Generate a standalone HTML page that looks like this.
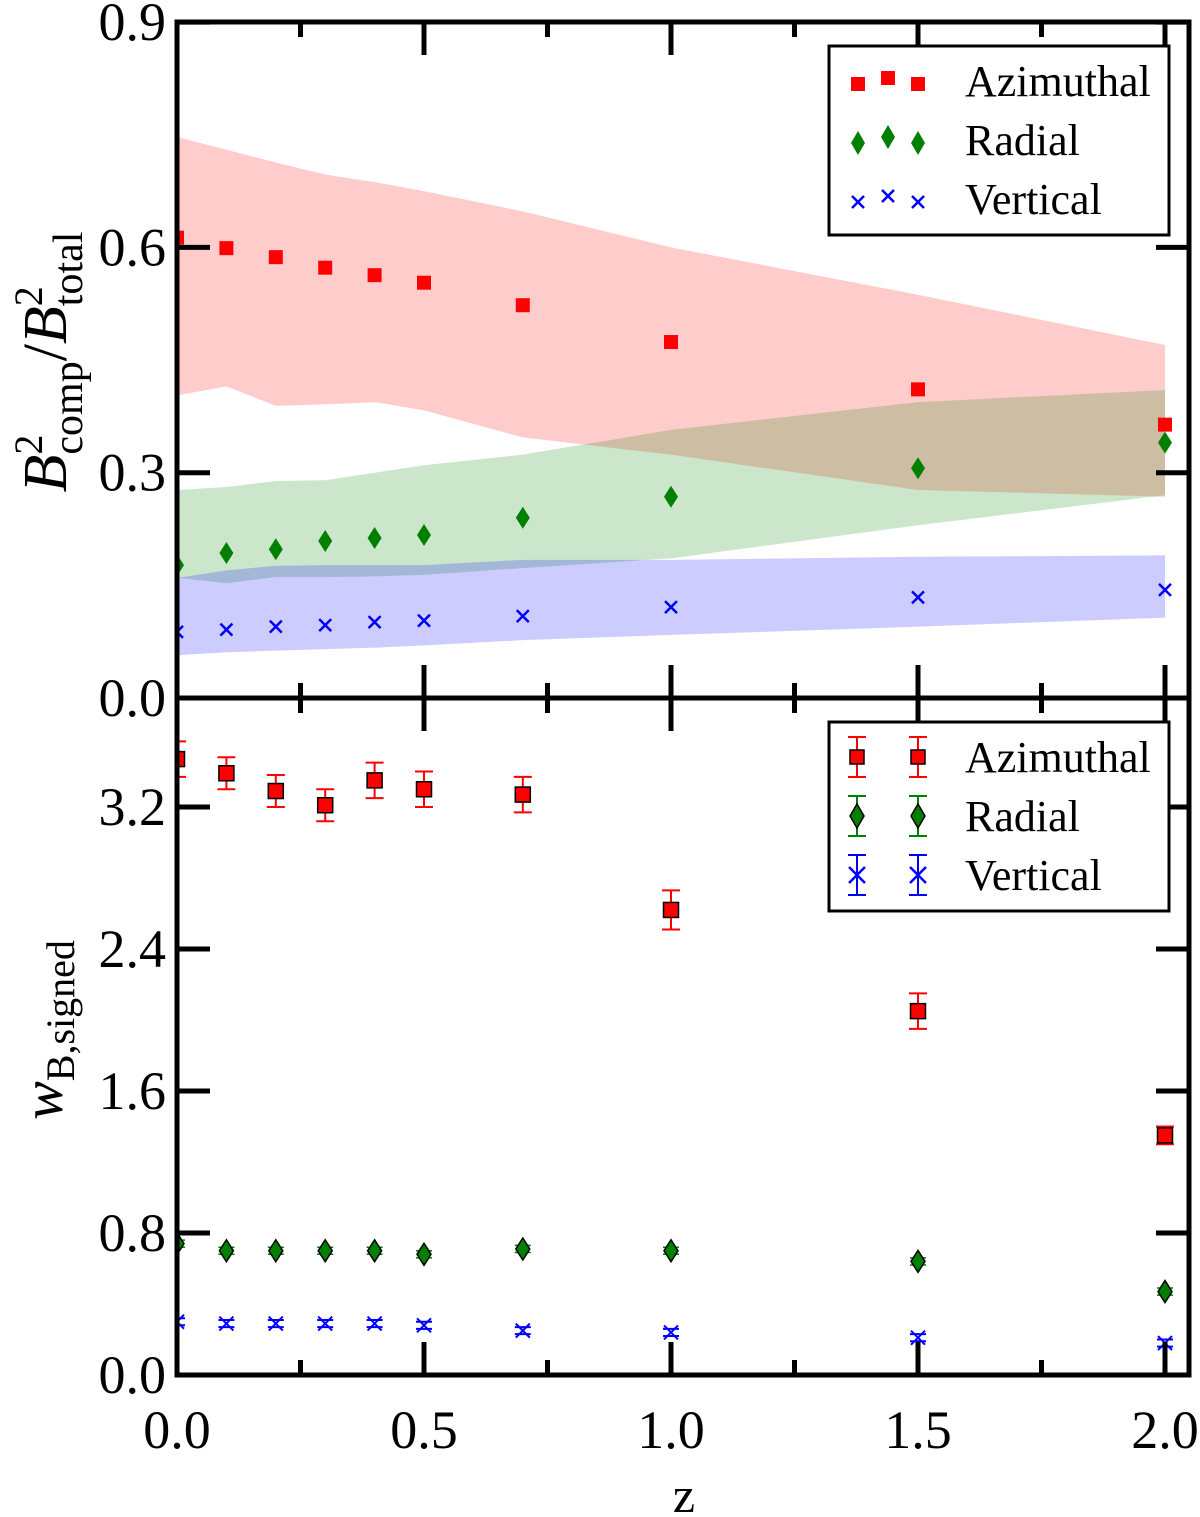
<!DOCTYPE html>
<html><head><meta charset="utf-8"><style>
html,body{margin:0;padding:0;background:#fff;}
svg{display:block;font-family:"Liberation Serif",serif;}
</style></head><body>
<svg id="chart" width="1200" height="1517" viewBox="0 0 1200 1517"></svg>
<script>
const zVals = [0,0.1,0.2,0.3,0.4,0.5,0.7,1.0,1.5,2.0];
const fracAz = [0.613,0.599,0.587,0.573,0.563,0.553,0.523,0.474,0.411,0.364];
const fracRad = [0.177,0.193,0.198,0.209,0.213,0.217,0.240,0.268,0.306,0.340];
const fracVer = [0.088,0.091,0.095,0.097,0.101,0.103,0.109,0.121,0.134,0.144];
const bandAzHi = [0.747,0.730,0.713,0.697,0.687,0.675,0.648,0.600,0.537,0.470];
const bandAzLo = [0.403,0.415,0.389,0.391,0.394,0.383,0.347,0.324,0.277,0.268];
const bandRadHi = [0.277,0.281,0.289,0.290,0.300,0.310,0.324,0.357,0.394,0.410];
const bandRadLo = [0.160,0.153,0.161,0.161,0.162,0.164,0.173,0.186,0.230,0.270];
const bandVerHi = [0.160,0.170,0.176,0.177,0.177,0.177,0.184,0.184,0.188,0.190];
const bandVerLo = [0.057,0.061,0.063,0.065,0.067,0.070,0.077,0.084,0.095,0.107];
const wAz = [3.47,3.39,3.29,3.21,3.35,3.30,3.27,2.62,2.05,1.35];
const wAzErr = [0.1,0.09,0.09,0.09,0.1,0.1,0.1,0.11,0.1,0.05];
const wRad = [0.74,0.70,0.70,0.70,0.70,0.68,0.71,0.70,0.64,0.47];
const wRadErr = [0.02,0.02,0.02,0.02,0.02,0.02,0.02,0.02,0.02,0.02];
const wVer = [0.30,0.29,0.29,0.29,0.29,0.28,0.25,0.24,0.21,0.18];
const wVerErr = [0.02,0.02,0.02,0.02,0.02,0.02,0.02,0.02,0.02,0.02];
const xTicks = ["0.0","0.5","1.0","1.5","2.0"];
const topTicks = ["0.0","0.3","0.6","0.9"];
const botTicks = ["0.0","0.8","1.6","2.4","3.2"];

const NS="http://www.w3.org/2000/svg";
const svg=document.getElementById('chart');
const L=177,R=1189,T1=22,B1=698,B2=1375;
const X=v=>L+v*494;
const Y1=v=>B1-v*751;
const Y2=v=>B2-v*177.5;
function mk(tag,attrs,parent){const e=document.createElementNS(NS,tag);for(const k in attrs)e.setAttribute(k,attrs[k]);(parent||svg).appendChild(e);return e;}

function band(hi,lo,color,name){
  let d='M'+zVals.map((z,i)=>X(z)+','+Y1(hi[i])).join('L');
  for(let i=zVals.length-1;i>=0;i--)d+='L'+X(zVals[i])+','+Y1(lo[i]);
  const p=mk('path',{d:d+'Z',fill:color,'fill-opacity':0.2});
  
  
}
band(bandAzHi,bandAzLo,'#ff0000','azimuthal-band');
band(bandRadHi,bandRadLo,'#008000','radial-band');
band(bandVerHi,bandVerLo,'#0000ff','vertical-band');

const clip=mk('clipPath',{id:'c'});mk('rect',{x:L,y:T1,width:R-L,height:B2-T1},clip);
const g=mk('g',{'clip-path':'url(#c)'});
zVals.forEach((z,i)=>{
  const x=X(z);
  let e=mk('rect',{x:x-7,y:Y1(fracAz[i])-7,width:14,height:14,fill:'#ff0000'},g);
  
  const y=Y1(fracRad[i]);
  e=mk('path',{d:`M${x},${y-11}L${x+7},${y}L${x},${y+11}L${x-7},${y}Z`,fill:'#008000'},g);
  
  const yv=Y1(fracVer[i]);
  e=mk('path',{d:`M${x-6},${yv-6}L${x+6},${yv+6}M${x-6},${yv+6}L${x+6},${yv-6}`,stroke:'#0000ff','stroke-width':2.5},g);
  
});
zVals.forEach((z,i)=>{
  const x=X(z);
  let e=mk('path',{d:`M${x},${Y2(wAz[i]+wAzErr[i])}L${x},${Y2(wAz[i]-wAzErr[i])}M${x-9},${Y2(wAz[i]+wAzErr[i])}L${x+9},${Y2(wAz[i]+wAzErr[i])}M${x-9},${Y2(wAz[i]-wAzErr[i])}L${x+9},${Y2(wAz[i]-wAzErr[i])}`,stroke:'#ff0000','stroke-width':2,fill:'none'},g);
  
  e=mk('rect',{x:x-7.5,y:Y2(wAz[i])-7.5,width:15,height:15,fill:'#ff0000',stroke:'#000','stroke-width':1.5},g);
  
  e=mk('path',{d:`M${x-8},${Y2(wRad[i]+wRadErr[i])}L${x+8},${Y2(wRad[i]+wRadErr[i])}M${x-8},${Y2(wRad[i]-wRadErr[i])}L${x+8},${Y2(wRad[i]-wRadErr[i])}`,stroke:'#008000','stroke-width':1.5,fill:'none'},g);
  
  const y=Y2(wRad[i]);
  e=mk('path',{d:`M${x},${y-11}L${x+7},${y}L${x},${y+11}L${x-7},${y}Z`,fill:'#008000',stroke:'#000','stroke-width':1.5},g);
  
  const yv=Y2(wVer[i]);
  e=mk('path',{d:`M${x-8},${Y2(wVer[i]+wVerErr[i])}L${x+8},${Y2(wVer[i]+wVerErr[i])}M${x-8},${Y2(wVer[i]-wVerErr[i])}L${x+8},${Y2(wVer[i]-wVerErr[i])}M${x-7},${yv-7}L${x+7},${yv+7}M${x-7},${yv+7}L${x+7},${yv-7}`,stroke:'#0000ff','stroke-width':2,fill:'none'},g);
  
});

[[T1,B1],[B1,B2]].forEach(([t,b],k)=>{
  const r=mk('rect',{x:L,y:t,width:R-L,height:b-t,fill:'none',stroke:'#000','stroke-width':5});
  
  for(let v=0;v<=2.001;v+=0.25){
    const maj=Math.abs(v*2-Math.round(v*2))<1e-6;const len=maj?33:15;const x=X(v);
    mk('line',{x1:x,y1:b,x2:x,y2:b-len,stroke:'#000','stroke-width':5});
    mk('line',{x1:x,y1:t,x2:x,y2:t+len,stroke:'#000','stroke-width':5});
  }
});
topTicks.forEach(s=>{const y=Y1(parseFloat(s));
  mk('line',{x1:L,y1:y,x2:L+33,y2:y,stroke:'#000','stroke-width':5});mk('line',{x1:R,y1:y,x2:R-33,y2:y,stroke:'#000','stroke-width':5});
  const t=mk('text',{x:166,y:y+18,'font-size':54,'text-anchor':'end'});t.textContent=s;
  });
botTicks.forEach(s=>{const y=Y2(parseFloat(s));
  mk('line',{x1:L,y1:y,x2:L+33,y2:y,stroke:'#000','stroke-width':5});mk('line',{x1:R,y1:y,x2:R-33,y2:y,stroke:'#000','stroke-width':5});
  const t=mk('text',{x:166,y:y+18,'font-size':54,'text-anchor':'end'});t.textContent=s;
  });
xTicks.forEach(s=>{const t=mk('text',{x:X(parseFloat(s)),y:1448,'font-size':54,'text-anchor':'middle'});t.textContent=s;
  });

let t=mk('text',{x:684,y:1512,'font-size':50,'text-anchor':'middle'});t.textContent='z';

t=mk('text',{transform:'translate(66,362) rotate(-90)','font-size':62,'text-anchor':'middle'});
t.innerHTML='<tspan font-style="italic">B</tspan><tspan font-size="40" dy="-24">2</tspan><tspan font-size="42" dx="-20" dy="40">comp</tspan><tspan dy="-16">/</tspan><tspan font-style="italic">B</tspan><tspan font-size="40" dy="-24">2</tspan><tspan font-size="42" dx="-20" dy="40">total</tspan>';

t=mk('text',{transform:'translate(62,1030) rotate(-90)','font-size':58,'text-anchor':'middle'});
t.innerHTML='<tspan font-style="italic">w</tspan><tspan font-size="40" dy="12">B,signed</tspan>';


function legend(y0,name,withErr){
  const lg=mk('g',{});
  mk('rect',{x:829,y:y0,width:340,height:189,fill:'#fff',stroke:'#000','stroke-width':3},lg);
  const labels=['Azimuthal','Radial','Vertical'];
  labels.forEach((lab,k)=>{
    const yc=y0+35+k*59;
    const xs=withErr?[857,918]:[858,888,918];
    xs.forEach((x,j)=>{
      const dy=withErr?0:(j===1?-3:3);
      const col=['#f00','#008000','#00f'][k];
      if(withErr){mk('path',{d:`M${x},${yc-20}L${x},${yc+20}M${x-9},${yc-20}L${x+9},${yc-20}M${x-9},${yc+20}L${x+9},${yc+20}`,stroke:col,'stroke-width':2},lg);}
      if(k===0) mk('rect',{x:x-7,y:yc+dy-7,width:14,height:14,fill:'#f00',stroke:withErr?'#000':'none','stroke-width':1.5},lg);
      if(k===1) mk('path',{d:`M${x},${yc+dy-12}L${x+7},${yc+dy}L${x},${yc+dy+12}L${x-7},${yc+dy}Z`,fill:'#008000',stroke:withErr?'#000':'none','stroke-width':1.5},lg);
      if(k===2){ const s=withErr?8:6;
        mk('path',{d:`M${x-s},${yc+dy-s}L${x+s},${yc+dy+s}M${x-s},${yc+dy+s}L${x+s},${yc+dy-s}`,stroke:'#00f','stroke-width':2.5},lg);}
    });
    const tx=mk('text',{x:965,y:yc+15,'font-size':44},lg);tx.textContent=lab;
    
  });
}
legend(46,'top-legend',false);
legend(722,'bottom-legend',true);
</script>
</body></html>
